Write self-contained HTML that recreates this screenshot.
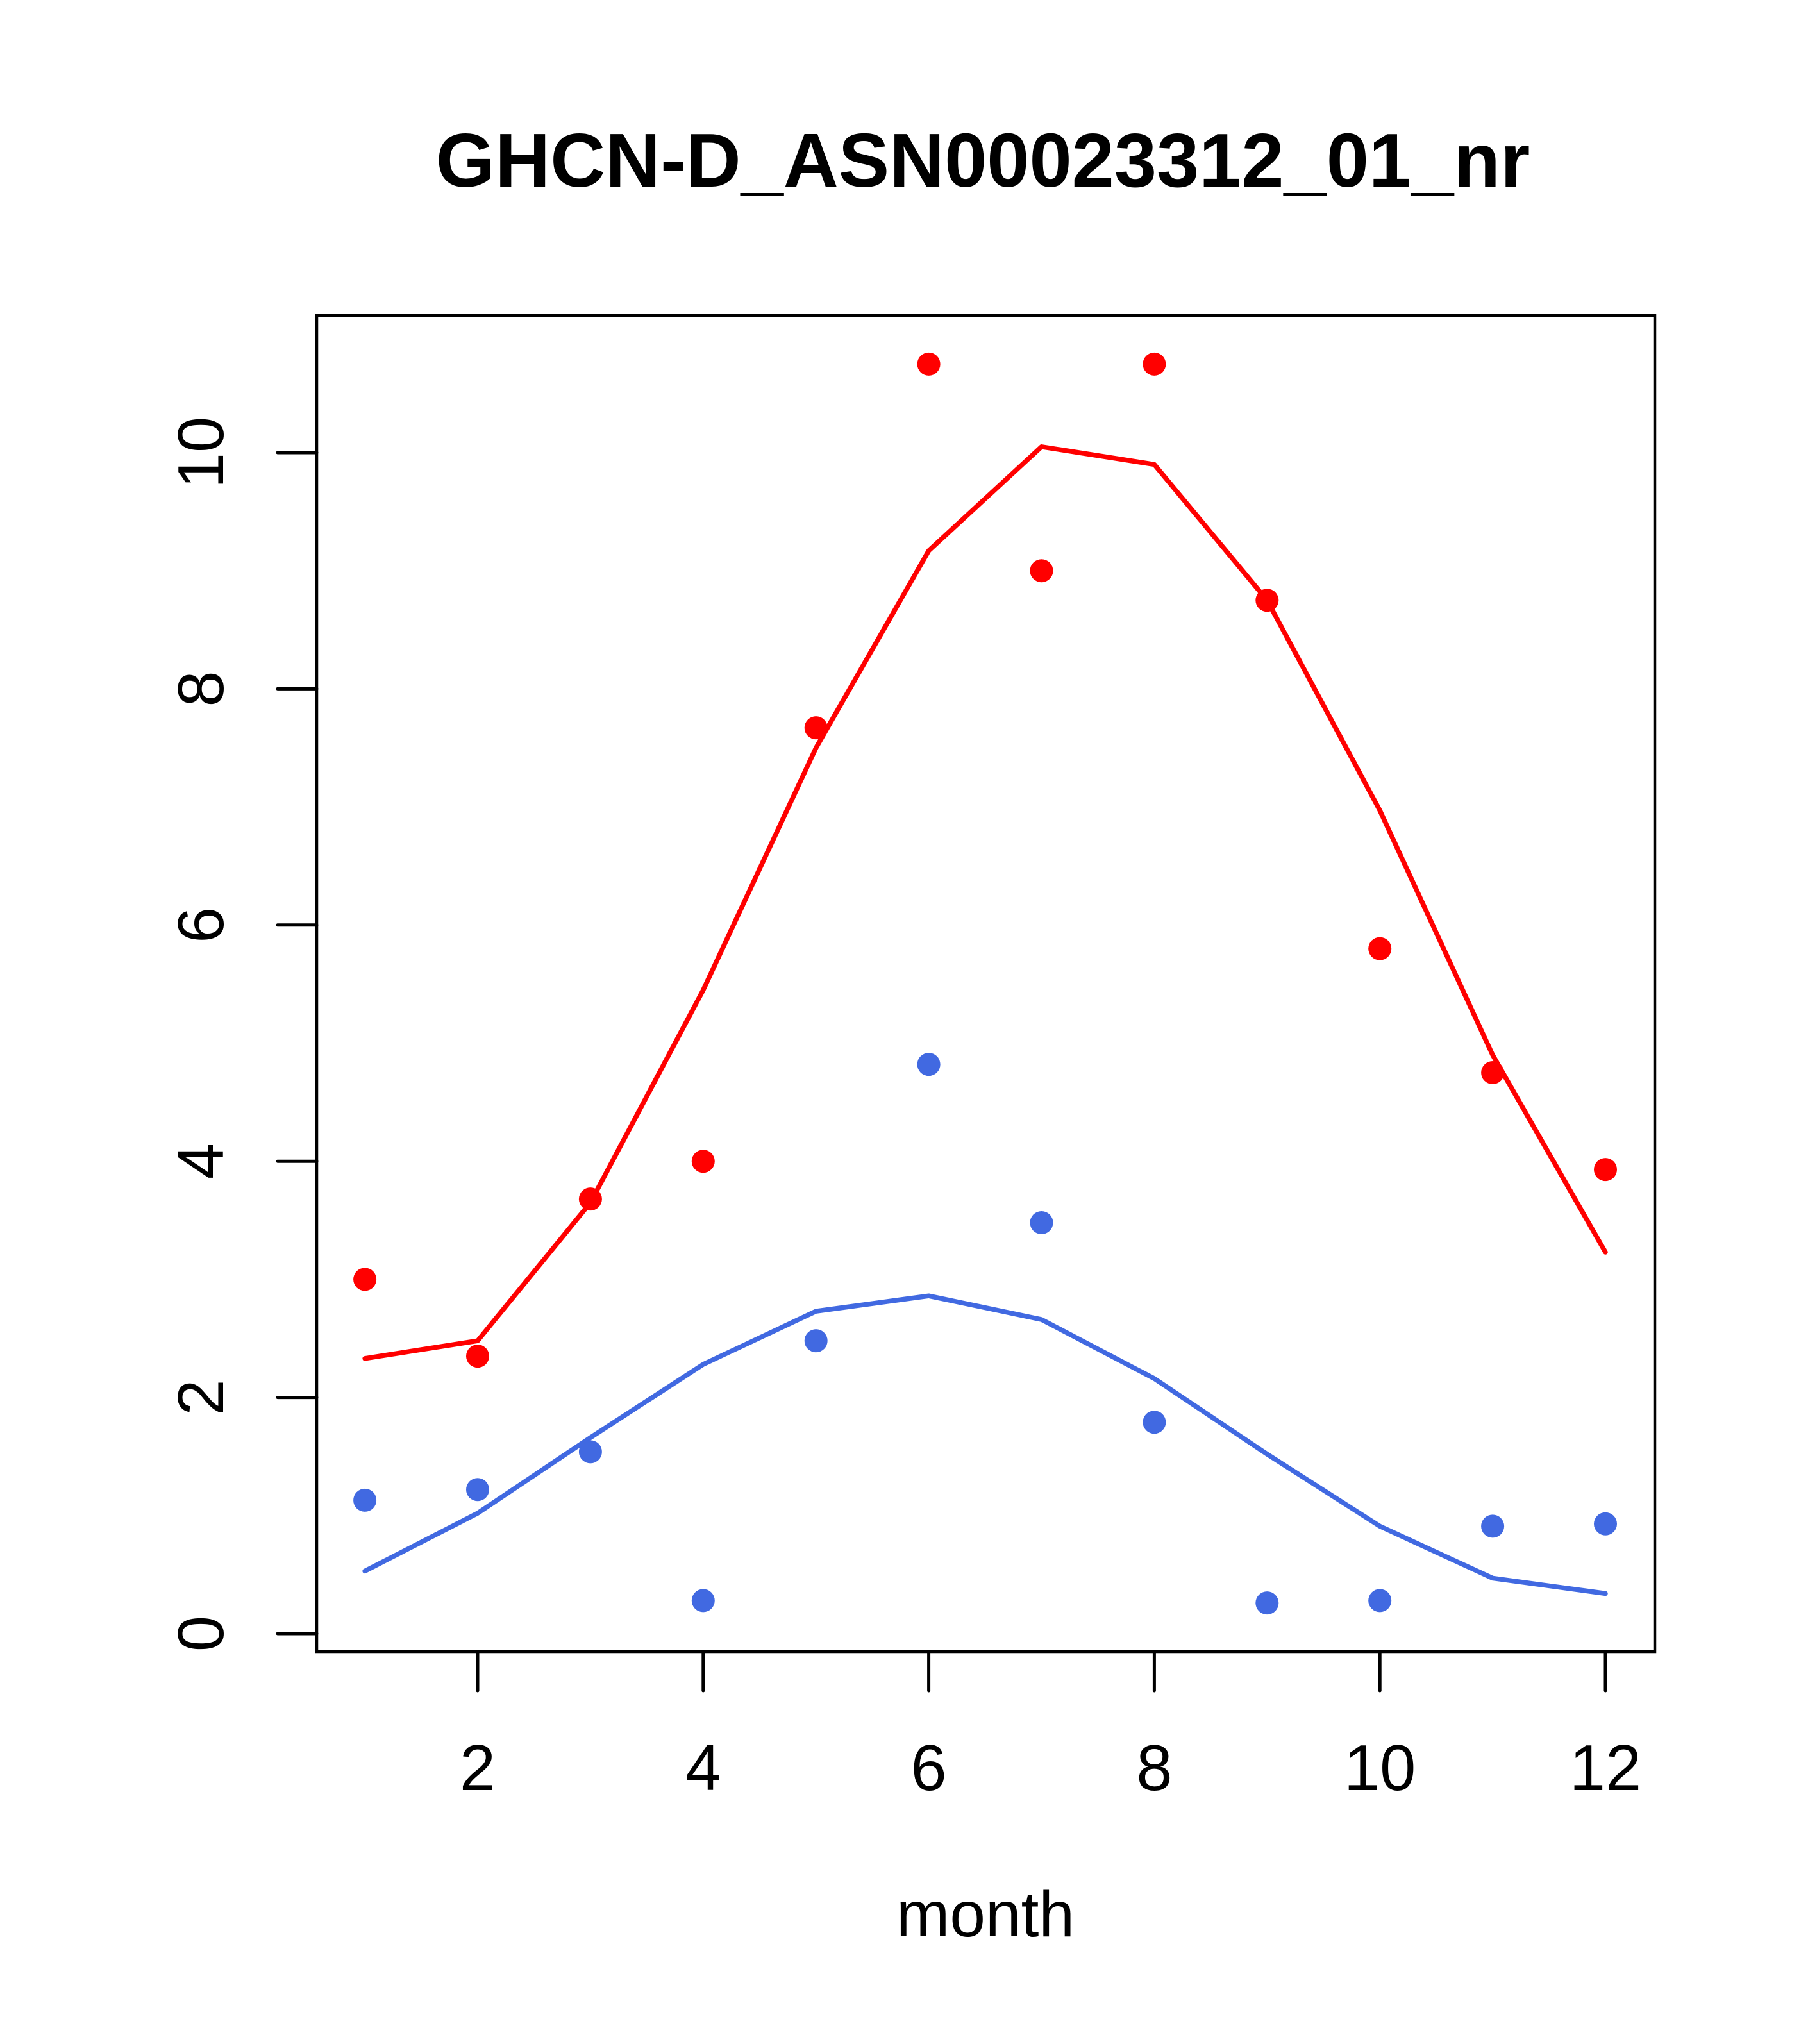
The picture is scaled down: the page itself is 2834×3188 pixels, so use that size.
<!DOCTYPE html>
<html><head><meta charset="utf-8"><style>
html,body{margin:0;padding:0;background:#fff;}
svg{display:block;font-family:"Liberation Sans",sans-serif;}
</style></head><body>
<svg id="chart" width="2834" height="3188" viewBox="0 0 2834 3188">
<text x="1533" y="291" font-size="119" font-weight="bold" text-anchor="middle">GHCN-D_ASN00023312_01_nr</text>
<rect x="494" y="492" width="2087" height="2084" fill="none" stroke="#000" stroke-width="4.5"/>
<g id="xaxis"></g>
<g id="yaxis"></g>
<g id="series"></g>
<text x="1537" y="3020" font-size="100" text-anchor="middle">month</text>
</svg>
<script>
const months = [1,2,3,4,5,6,7,8,9,10,11,12];
const redPoints = [3.0,2.35,3.68,4.0,7.67,10.75,9.0,10.75,8.75,5.8,4.75,3.93];
const redLine = [2.33,2.48,3.65,5.45,7.5,9.17,10.05,9.9,8.75,6.97,4.9,3.23];
const bluePoints = [1.13,1.22,1.54,0.28,2.48,4.82,3.48,1.79,0.26,0.28,0.91,0.93];
const blueLine = [0.53,1.02,1.66,2.28,2.73,2.86,2.66,2.16,1.52,0.91,0.47,0.34];
const xTicks = [2,4,6,8,10,12];
const yTicks = [0,2,4,6,8,10];

const NS = "http://www.w3.org/2000/svg";
function X(m){ return 745 + (m-2)*175.9; }
function Y(v){ return 2548 - v*184.2; }
function mk(tag, attrs, parent){
  const e = document.createElementNS(NS, tag);
  for (const k in attrs) e.setAttribute(k, attrs[k]);
  parent.appendChild(e); return e;
}
const xa = document.getElementById('xaxis');
xTicks.forEach(t => {
  const l = mk('line', {x1:X(t), x2:X(t), y1:2576, y2:2637, stroke:'#000', 'stroke-width':5, 'stroke-linecap':'round'}, xa);
  
  
  const tx = mk('text', {x:X(t), y:2792, 'font-size':101, 'text-anchor':'middle'}, xa);
  tx.textContent = t;
  
  
});
const ya = document.getElementById('yaxis');
yTicks.forEach(t => {
  const l = mk('line', {x1:433, x2:494, y1:Y(t), y2:Y(t), stroke:'#000', 'stroke-width':5, 'stroke-linecap':'round'}, ya);
  
  
  const tx = mk('text', {x:0, y:0, 'font-size':101, 'text-anchor':'middle', transform:'translate(348,'+Y(t)+') rotate(-90)'}, ya);
  tx.textContent = t;
  
  
});
const sg = document.getElementById('series');
function line(vals, color, name){
  const p = mk('polyline', {points: vals.map((v,i)=>X(months[i])+','+Y(v)).join(' '), fill:'none', stroke:color, 'stroke-width':7.5, 'stroke-linejoin':'round', 'stroke-linecap':'round'}, sg);
  
  
}
function pts(vals, color, name){
  vals.forEach((v,i)=>{
    const c = mk('circle', {cx:X(months[i]), cy:Y(v), r:18, fill:color}, sg);
    
    
  });
}
line(redLine, '#ff0000', 'red-fit-line');
line(blueLine, '#4169e1', 'blue-fit-line');
pts(redPoints, '#ff0000', 'red-point');
pts(bluePoints, '#4169e1', 'blue-point');
</script>
</body></html>
